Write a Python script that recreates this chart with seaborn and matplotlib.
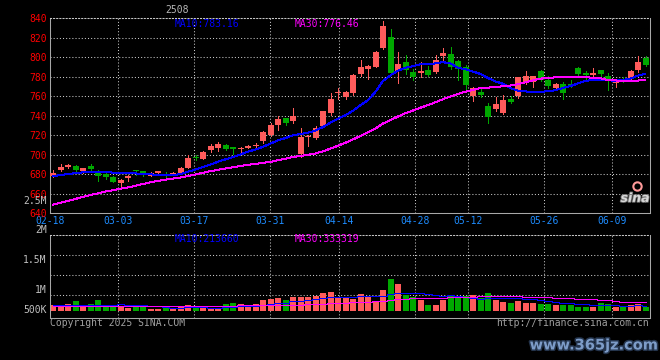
import numpy as np
import pandas as pd
import matplotlib
matplotlib.use("Agg")
import matplotlib.pyplot as plt
import matplotlib.patheffects as pe
import seaborn as sns

TITLE = "2508"
OPEN = [678.5, 684, 687, 688.5, 683.5, 688.5, 682.4, 680.5, 676.5, 671,
        676, 684.5, 683.4, 678, 681, 680.5, 680, 681.5, 686.5, 698,
        695.5, 704.5, 706.7, 710, 707.7, 705.5, 707, 709, 714, 720,
        730.3, 737.8, 734.4, 700.5, 718, 717.5, 729.2, 743, 762.8, 759.3,
        763.4, 782.6, 788, 790, 809, 821, 786, 795.2, 785, 783.3,
        786.7, 785, 801.3, 803, 796.2, 790, 760, 764, 749.7, 746.4,
        743, 757.2, 760, 774.7, 774.7, 785.6, 777, 768.2, 773, 773,
        789.4, 784, 782.2, 786.7, 780.5, 774, 777.5, 778.8, 786.7, 799.3]
HIGH = [684, 690.5, 690.5, 689.5, 686, 690, 684, 682, 678, 674.5,
        679, 684.5, 683.5, 682.5, 683.5, 682, 682.5, 687.5, 699.5, 699.5,
        703.5, 710.5, 713, 710.5, 708, 707.5, 709.5, 712, 724, 732.5,
        739.5, 738, 748, 727, 720, 729, 745, 763, 768, 765,
        782.6, 797, 792, 806.5, 837, 828.7, 805.4, 802, 788.4, 795,
        791.5, 802, 809, 810.8, 797.5, 792, 769, 768, 753, 758.7,
        761, 760, 780, 785.6, 781, 786.5, 780.5, 773.6, 774.5, 776.4,
        789.5, 786, 789, 787, 783.3, 777, 780, 786.5, 801, 801]
LOW = [677, 683.5, 686, 682.5, 681.5, 684, 673, 675, 671.5, 666,
       673, 679, 677.5, 677.5, 679.5, 675.5, 679.5, 681, 686, 694.5,
       695, 703, 703.5, 705, 701, 703, 706.5, 708, 711.5, 719.5,
       725, 730.5, 732, 697.8, 708.5, 716, 728.5, 740.6, 757.5, 757.5,
       761, 780.5, 777.7, 789.5, 808, 783.5, 773.6, 782.6, 776.4, 780,
       780.5, 784, 795.2, 788.4, 776.4, 767, 755, 759, 732, 745,
       742, 752.5, 758, 773, 769.5, 776, 768.8, 766, 757.6, 769,
       782, 777, 779, 781, 766.2, 769, 774.7, 778, 785, 790.8]
CLOSE = [681, 687.5, 689.5, 684, 685.8, 685, 678, 677, 672, 673.8,
         678.3, 683.5, 681.4, 681.5, 683, 678, 681.5, 686.5, 696.5, 697,
         703, 708.7, 711, 705.7, 706, 706, 708.7, 710.3, 723.4, 730.3,
         736.4, 732.5, 739.8, 718.3, 719.5, 727.5, 744.6, 757, 764.4, 764.4,
         781.5, 790, 790.8, 805.4, 831.8, 784, 792.8, 786.7, 780, 786,
         781.5, 797.6, 804.4, 790, 787.7, 771.3, 768, 761, 738.8, 751.8,
         756, 754.2, 779.2, 780.5, 780.5, 777, 770.3, 772.3, 763.4, 771,
         782.6, 782, 784, 782.6, 776.4, 775.4, 776.5, 785.6, 795, 791.8]
VOLUME = [248000, 260000, 280000, 400000, 220000, 268000, 440000, 168000, 168000, 152000,
          120000, 172000, 172000, 88000, 88000, 140000, 100000, 152000, 240000, 160000,
          160000, 100000, 100000, 280000, 320000, 280000, 260000, 280000, 440000, 480000,
          520000, 440000, 560000, 560000, 560000, 600000, 720000, 760000, 560000, 520000,
          480000, 680000, 612000, 412000, 840000, 1280000, 1080000, 652000, 548000, 452000,
          240000, 240000, 452000, 588000, 612000, 588000, 640000, 520000, 720000, 452000,
          360000, 320000, 412000, 320000, 320000, 280000, 280000, 228000, 252000, 252000,
          160000, 160000, 160000, 320000, 280000, 160000, 212000, 228000, 292000, 160000]
MA10 = [677.8, 679, 680, 681, 681.8, 682.2, 682.4, 682, 681.5, 681.4,
        681.1, 680.7, 679.9, 679.6, 679.4, 678.7, 679.0, 680.0, 682.4, 684.7,
        687.2, 689.7, 692.7, 695.1, 697.4, 700.2, 702.9, 705.3, 708.0, 711.3,
        714.7, 717.0, 719.9, 721.2, 722.5, 724.7, 728.3, 732.9, 737.0, 740.4,
        745.0, 750.7, 755.8, 764.5, 775.7, 781.4, 786.2, 789.2, 790.7, 792.9,
        792.9, 793.7, 795.0, 793.5, 789.1, 787.8, 785.3, 782.8, 778.6, 775.2,
        772.7, 768.3, 765.8, 764.9, 764.1, 764.7, 764.9, 766.1, 768.5, 770.4,
        773.1, 775.9, 776.4, 776.6, 776.2, 776.0, 776.6, 778.0, 781.1, 783.2]
MA30 = [648.5, 650.5, 652.5, 654.5, 656.5, 658.5, 660.2, 662, 663.5, 665,
        666.2, 668, 669.8, 671.5, 673, 674.3, 675.3, 676.5, 678, 679.6,
        681.3, 683, 684.3, 685.8, 687, 688.2, 689.5, 690.5, 691.5, 692.5,
        694.3, 695.8, 697.5, 698.6, 699.8, 701.2, 703.4, 706.1, 709.1, 712.2,
        715.6, 719.2, 722.8, 726.9, 731.9, 735.4, 739.1, 742.5, 745.3, 748.2,
        750.8, 753.8, 756.9, 759.7, 762.4, 764.6, 766.6, 768.3, 768.8, 769.5,
        770.2, 770.9, 772.2, 774.3, 776.3, 778.0, 778.8, 779.3, 779.3, 779.5,
        779.6, 779.3, 779.1, 778.3, 776.5, 776.2, 775.6, 775.6, 776.1, 776.3]
VOL_MA10 = [245000, 248000, 250000, 252000, 252000, 255000, 258000, 258000, 258000, 260400,
            247600, 238800, 228000, 196800, 183600, 170800, 136800, 135200, 142400, 143200,
            147200, 140000, 132800, 152000, 175200, 189200, 205200, 218000, 238000, 270000,
            306000, 340000, 386000, 414000, 438000, 470000, 516000, 564000, 576000, 580000,
            576000, 600000, 605200, 590400, 618400, 686400, 722400, 711600, 710400, 703600,
            679600, 635600, 619600, 637200, 614400, 545200, 501200, 488000, 505200, 505200,
            517200, 525200, 521200, 494400, 465200, 434400, 398400, 369200, 322400, 302400,
            282400, 266400, 241200, 241200, 237200, 225200, 218400, 218400, 222400, 213200]
VOL_MA30 = [220000, 219000, 218000, 217000, 216000, 215000, 215000, 214000, 214000, 213000,
            213000, 213000, 212000, 212000, 212000, 212000, 213000, 213000, 214000, 215000,
            216000, 217000, 218000, 219000, 220000, 221000, 222000, 223000, 224000, 224500,
            233600, 239600, 248900, 254300, 265600, 276700, 286000, 305700, 318800, 331100,
            343100, 360000, 374700, 385500, 410500, 448500, 481200, 497900, 508100, 517900,
            520500, 525200, 536900, 547200, 556900, 567200, 579900, 587900, 597200, 596300,
            590900, 586900, 582000, 574000, 566000, 555300, 540700, 522900, 512700, 503700,
            493100, 475700, 460700, 457600, 438900, 401600, 372700, 358500, 350000, 340300]
DATE_LABELS = ["02-18", "03-03", "03-17", "03-31", "04-14", "04-28", "05-12", "05-26", "06-09"]
DATE_DAY = [0, 9, 19, 29, 38, 48, 55, 65, 74]
PRICE_TICKS = [640, 660, 680, 700, 720, 740, 760, 780, 800, 820, 840]
VOL_LABELS = ["2.5M", "2M", "1.5M", "1M", "500K"]
PRICE_MA_TEXT = ["MA10:783.16", "MA30:776.46"]
VOL_MA_TEXT = ["MA10:213660", "MA30:333319"]

# ---------------- style ----------------
sns.set_theme(style="dark", rc={"axes.facecolor": "black", "figure.facecolor": "black"})
plt.rcParams["font.family"] = ["DejaVu Sans Mono", "DejaVu Sans"]

W, H = 660, 360
UP, DOWN = "#ff5b5b", "#00a800"
GRID = "#c8c8c8"
BORDER = "#a8a8a8"
DOT = (0, (1, 2))
LW = 0.72  # one pixel

fig = plt.figure(figsize=(W / 100, H / 100), dpi=100, facecolor="black")


def box(l, t, r, b):
    return [l / W, 1 - b / H, (r - l) / W, (b - t) / H]


ax = fig.add_axes(box(50, 18.3, 650, 213))
axv = fig.add_axes(box(50, 234.7, 650, 318))

df = pd.DataFrame({"o": OPEN, "h": HIGH, "l": LOW, "c": CLOSE, "v": VOLUME,
                   "ma10": MA10, "ma30": MA30, "vma10": VOL_MA10, "vma30": VOL_MA30})
df["x"] = np.arange(len(df))
df["up"] = df["c"] >= df["o"]
colors = np.where(df["up"], UP, DOWN)
body_lo = np.minimum(df["o"], df["c"])
body_h = np.maximum((df["c"] - df["o"]).abs(), 1.0)

# candle step is 7.5 px, the date grid follows the exchange calendar at 7.6 px
date_pos = [-0.4 + d * 7.6 / 7.5 for d in DATE_DAY]

for a in (ax, axv):
    a.set_facecolor("black")
    a.set_xlim(-0.4, 79.6)
    a.set_axisbelow(True)
    a.set_xticks(date_pos)
    a.grid(True, axis="both", color=GRID, linestyle=DOT, linewidth=0.75)
    for s in a.spines.values():
        s.set_color(BORDER)
        s.set_linewidth(0.75)
        s.set_visible(True)
    a.spines["top"].set_linestyle(DOT)
    a.spines["top"].set_color(GRID)
    a.tick_params(length=0)

# ---------------- price panel ----------------
ax.vlines(df["x"], df["l"], df["h"], colors=colors, linewidth=LW, antialiased=False, zorder=2)
ax.bar(df["x"], body_h, bottom=body_lo, width=0.8, color=colors, linewidth=0,
       antialiased=False, zorder=3)
sns.lineplot(x=df["x"], y=df["ma10"], ax=ax, color="#0000ff", linewidth=LW,
             antialiased=False, zorder=4)
sns.lineplot(x=df["x"], y=df["ma30"], ax=ax, color="#ff00ff", linewidth=LW,
             antialiased=False, zorder=4)
ax.set_ylim(640, 840)
ax.set_yticks(PRICE_TICKS)
ax.set_yticklabels([str(t) for t in PRICE_TICKS], color="#ff0000", fontsize=7)
ax.set_xticklabels(DATE_LABELS, color="#1e8cff", fontsize=7)
ax.tick_params(axis="y", pad=2.4)
ax.tick_params(axis="x", pad=2.4)
ax.set_xlabel("")
ax.set_ylabel("")

# sina logo
ax.text(0.975, 0.075, "sina", transform=ax.transAxes, ha="center", va="center",
        fontsize=9, fontweight="bold", fontstyle="italic", family="DejaVu Sans",
        color="#d8d8d8", path_effects=[pe.withStroke(linewidth=1.2, foreground="#707070")],
        zorder=5)
ax.plot([0.978], [0.14], transform=ax.transAxes, marker="o", markersize=6,
        markerfacecolor="none", markeredgecolor="#ff9a9a", markeredgewidth=1.5, zorder=5)

# ---------------- volume panel ----------------
axv.bar(df["x"], df["v"], width=0.8, color=colors, linewidth=0, antialiased=False, zorder=2)
sns.lineplot(x=df["x"], y=df["vma10"], ax=axv, color="#0000ff", linewidth=LW,
             drawstyle="steps-mid", antialiased=False, zorder=3)
sns.lineplot(x=df["x"], y=df["vma30"], ax=axv, color="#ff00ff", linewidth=LW,
             drawstyle="steps-mid", antialiased=False, zorder=3)
axv.set_ylim(-280000, 3052000)
axv.set_yticks([640000, 1440000, 2240000])
axv.set_yticklabels([])
axv.set_xticklabels([])
axv.set_xlabel("")
axv.set_ylabel("")

# volume scale labels (drawn where the original puts them)
for lab, ypx in zip(VOL_LABELS, [201, 230.5, 260.3, 290.3, 310.3]):
    fig.text(46.7 / W, 1 - ypx / H, lab, ha="right", va="center", fontsize=7, color="#c0c0c0")

# ---------------- texts ----------------
fig.text(177 / W, 1 - 9.7 / H, TITLE, ha="center", va="center", fontsize=7, color="#b8b8b8")
fig.text(175 / W, 1 - 23.7 / H, PRICE_MA_TEXT[0], ha="left", va="center", fontsize=7, color="#0000ff")
fig.text(295 / W, 1 - 23.7 / H, PRICE_MA_TEXT[1], ha="left", va="center", fontsize=7, color="#ff00ff")
fig.text(175 / W, 1 - 238.5 / H, VOL_MA_TEXT[0], ha="left", va="center", fontsize=7, color="#0000ff")
fig.text(295 / W, 1 - 238.5 / H, VOL_MA_TEXT[1], ha="left", va="center", fontsize=7, color="#ff00ff")
fig.text(50 / W, 1 - 323.5 / H, "Copyright 2025 SINA.COM", ha="left", va="center",
         fontsize=7, color="#a0a0a0")
fig.text(649 / W, 1 - 323.5 / H, "http://finance.sina.com.cn", ha="right", va="center",
         fontsize=7, color="#a0a0a0")
fig.text(594 / W, 1 - 345 / H, "www.365jz.com", ha="center", va="center", fontsize=10.5,
         fontweight="bold", family="DejaVu Sans", color="#7d9cc8",
         path_effects=[pe.withStroke(linewidth=2.2, foreground="#24344c")])

fig.savefig("out.png", dpi=100, facecolor="black")
